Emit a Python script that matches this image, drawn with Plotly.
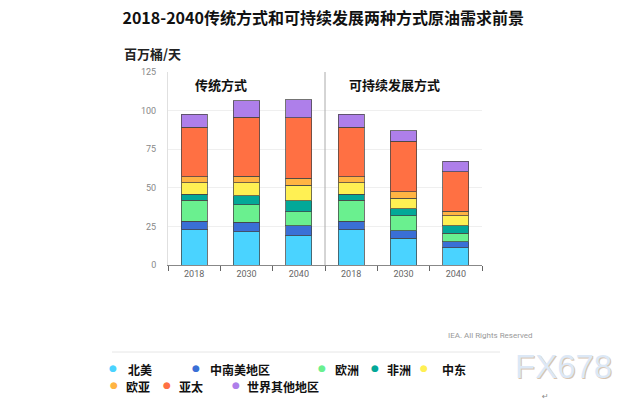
import plotly.graph_objects as go

# ---------------- data ----------------
scenarios = ["传统方式", "可持续发展方式"]
years = ["2018", "2030", "2040"]
regions = ["北美", "中南美地区", "欧洲", "非洲", "中东", "欧亚", "亚太", "世界其他地区"]
colors = ["#4ad3ff", "#3a6fd6", "#6af08f", "#03a898", "#fff053", "#ffb443", "#ff7043", "#ae7fea"]

# values per region, order: 传统 2018, 2030, 2040, 可持续 2018, 2030, 2040 (million barrels/day)
north_america = [22.7, 21.6, 19.0, 22.7, 17.3, 11.2]
latin_america = [5.8, 6.1, 6.5, 5.8, 5.0, 3.9]
europe = [13.4, 11.2, 8.9, 13.4, 9.5, 5.4]
africa = [3.9, 5.9, 7.1, 3.9, 4.5, 5.0]
middle_east = [7.4, 8.4, 10.2, 7.4, 6.9, 6.3]
eurasia = [4.1, 4.3, 4.5, 4.1, 4.4, 3.0]
asia_pacific = [32.0, 38.3, 39.2, 32.0, 32.4, 25.7]
rest_of_world = [8.4, 10.6, 11.6, 8.4, 7.1, 6.7]
series = [north_america, latin_america, europe, africa, middle_east, eurasia, asia_pacific, rest_of_world]

y_ticks = [0, 25, 50, 75, 100, 125]

# ---------------- layout helpers ----------------
L, R, T, B = 168, 482, 72, 265
W, H = 640, 400


def px(x):
    return (x - L) / (R - L)


def py(y):
    return (B - y) / (B - T)


x_pos = list(range(len(scenarios) * len(years)))
tick_text = years * len(scenarios)

fig = go.Figure()
for name, vals, col in zip(regions, series, colors):
    fig.add_trace(go.Bar(
        x=x_pos, y=vals, name=name,
        marker=dict(color=col, line=dict(color="rgba(70,70,70,0.75)", width=1)),
        showlegend=False,
    ))

font_cjk = "Noto Sans CJK SC"

annotations = []
# panel labels
annotations.append(dict(text="<b>传统方式</b>", x=px(193), y=py(84), xref="paper", yref="paper",
                        xanchor="left", yanchor="middle", showarrow=False,
                        font=dict(family=font_cjk, size=13, color="#111")))
annotations.append(dict(text="<b>可持续发展方式</b>", x=px(347), y=py(84), xref="paper", yref="paper",
                        xanchor="left", yanchor="middle", showarrow=False,
                        font=dict(family=font_cjk, size=13, color="#111")))
# unit label
annotations.append(dict(text="<b>百万桶/天</b>", x=px(122), y=py(53), xref="paper", yref="paper",
                        xanchor="left", yanchor="middle", showarrow=False,
                        font=dict(family=font_cjk, size=13, color="#222")))
# copyright
annotations.append(dict(text="IEA. All Rights Reserved", x=px(535), y=py(335), xref="paper", yref="paper",
                        xanchor="right", yanchor="middle", showarrow=False,
                        font=dict(family="Roboto", size=8, color="#999")))

# custom legend
legend_pos = [(113, 369, 126), (196, 369, 208), (322, 369, 333), (375, 369, 385), (424, 369, 440),
              (114, 386, 124), (167, 386, 177), (236, 386, 245)]
for (dx, yy, tx), name, col in zip(legend_pos, regions, colors):
    annotations.append(dict(text="●", x=px(dx), y=py(yy - 1), xref="paper", yref="paper",
                            xanchor="center", yanchor="middle", showarrow=False,
                            font=dict(family="DejaVu Sans", size=9, color=col)))
    annotations.append(dict(text="<b>" + name + "</b>", x=px(tx), y=py(yy), xref="paper", yref="paper",
                            xanchor="left", yanchor="middle", showarrow=False,
                            font=dict(family=font_cjk, size=12, color="#111")))

# watermark
annotations.append(dict(text="FX678", x=px(563 + 1.5), y=py(366 + 1.5), xref="paper", yref="paper",
                        xanchor="center", yanchor="middle", showarrow=False,
                        font=dict(family="Liberation Sans", size=33, color="#d8c4b0")))
annotations.append(dict(text="FX678", x=px(563), y=py(366), xref="paper", yref="paper",
                        xanchor="center", yanchor="middle", showarrow=False,
                        font=dict(family="Liberation Sans", size=33, color="#dce8f6")))
annotations.append(dict(text="↵", x=px(545), y=py(396), xref="paper", yref="paper",
                        xanchor="center", yanchor="middle", showarrow=False,
                        font=dict(family="DejaVu Sans", size=8, color="#888")))

shapes = [
    dict(type="line", xref="x", yref="paper", x0=2.5, x1=2.5, y0=0, y1=1,
         line=dict(color="#aaaaaa", width=1)),
    dict(type="line", xref="paper", yref="paper", x0=px(112), x1=px(500), y0=py(352), y1=py(352),
         line=dict(color="#e6e6e6", width=1)),
]

fig.update_layout(
    width=W, height=H,
    margin=dict(l=L, r=W - R, t=T, b=H - B, pad=0),
    paper_bgcolor="white", plot_bgcolor="white",
    barmode="stack", bargap=0.5,
    title=dict(text="<b>2018-2040传统方式和可持续发展两种方式原油需求前景</b>",
               x=0.505, y=1 - 18 / H, xanchor="center", yanchor="middle",
               font=dict(family=font_cjk, size=16, color="#111")),
    xaxis=dict(range=[-0.5, 5.5], tickmode="array", tickvals=x_pos, ticktext=tick_text,
               ticks="", showgrid=False, zeroline=False, showline=True, linecolor="#888", linewidth=1,
               tickfont=dict(family="Roboto", size=9, color="#666"),
               minor=dict(tickmode="array", tickvals=[i - 0.5 for i in range(len(x_pos) + 1)],
                          ticks="outside", ticklen=5, tickcolor="#666", showgrid=False),
               fixedrange=True),
    yaxis=dict(range=[0, 125], tickmode="array", tickvals=y_ticks, showgrid=True, gridcolor="#efefef",
               zeroline=False, showline=True, linecolor="#e0e0e0", ticks="", ticklen=0,
               ticklabelstandoff=9,
               tickfont=dict(family="Roboto", size=9, color="#888"), fixedrange=True),
    annotations=annotations,
    shapes=shapes,
)

fig.write_html("out.html", config={"displayModeBar": False},
               post_script="document.body.style.margin='0px';document.body.style.overflow='hidden';")
